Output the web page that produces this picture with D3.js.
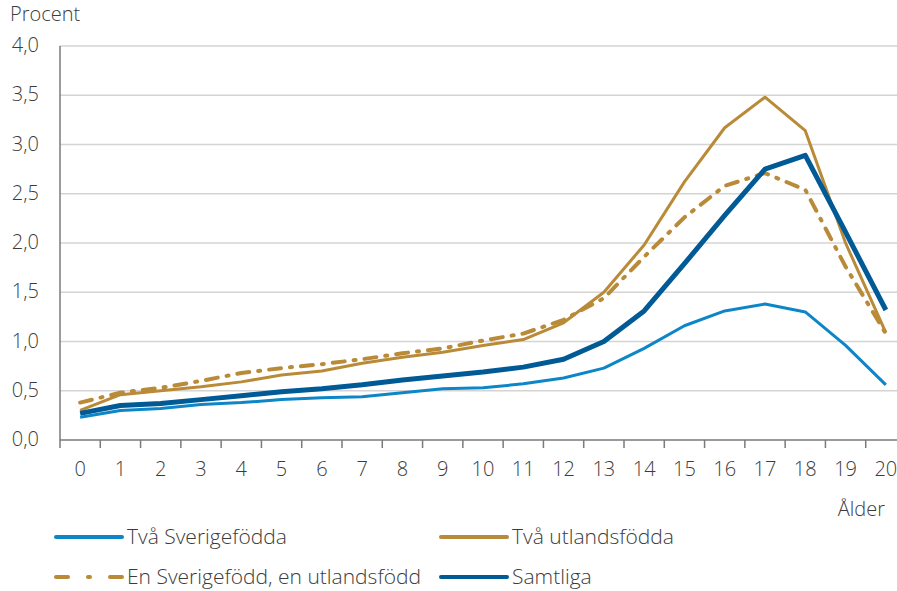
<!DOCTYPE html>
<html lang="sv">
<head>
<meta charset="utf-8">
<style>
  body { margin: 0; background: #fff; }
  text { font-family: "Open Sans", sans-serif; font-weight: 300; fill: #3c3c3c; font-size: 20px; }
  .legend text { font-size: 21px; }
</style>
</head>
<body>
<script src="https://cdn.jsdelivr.net/npm/d3@7"></script>
<script>

var ages = ["0","1","2","3","4","5","6","7","8","9","10","11","12","13","14","15","16","17","18","19","20"];
var yTicks = [0, 0.5, 1, 1.5, 2, 2.5, 3, 3.5, 4];

var tvaSverige = [0.23,0.30,0.32,0.36,0.38,0.41,0.43,0.44,0.48,0.52,0.53,0.57,0.63,0.73,0.93,1.16,1.31,1.38,1.30,0.96,0.56];
var tvaUtland  = [0.30,0.46,0.50,0.54,0.59,0.66,0.70,0.78,0.84,0.89,0.96,1.02,1.19,1.50,1.98,2.62,3.17,3.48,3.14,2.00,1.09];
var enVardera  = [0.38,0.48,0.53,0.60,0.68,0.73,0.77,0.82,0.88,0.93,1.01,1.08,1.22,1.44,1.86,2.26,2.58,2.71,2.54,1.76,1.08];
var samtliga   = [0.27,0.35,0.37,0.41,0.45,0.49,0.52,0.56,0.61,0.65,0.69,0.74,0.82,1.00,1.31,1.79,2.28,2.75,2.89,2.11,1.32];

var series = [
  {name: "Två Sverigefödda", values: tvaSverige, color: "#0d86c8", width: 3, dash: null},
  {name: "Två utlandsfödda", values: tvaUtland, color: "#b98a37", width: 3, dash: null},
  {name: "En Sverigefödd, en utlandsfödd", values: enVardera, color: "#b98a37", width: 4, dash: "12,9,2,9"},
  {name: "Samtliga", values: samtliga, color: "#005a96", width: 5, dash: null}
];

var width = 897, height = 591;
var plot = {left: 60, right: 906, top: 46, bottom: 440};

var svg = d3.select("body").append("svg")
  .attr("width", width)
  .attr("height", height);

var x = d3.scaleBand().domain(ages).range([plot.left, plot.right]);
var y = d3.scaleLinear().domain([0, 4]).range([plot.bottom, plot.top]);

// grid
svg.append("g").selectAll("line")
  .data(yTicks.filter(function(d) { return d > 0; }))
  .enter().append("line")
  .attr("x1", plot.left).attr("x2", width)
  .attr("y1", function(d) { return y(d); })
  .attr("y2", function(d) { return y(d); })
  .attr("stroke", "#d4d4d4")
  .attr("stroke-width", 1.5);

// y labels
var fmt = function(d) { return d3.format(".1f")(d).replace(".", ","); };
svg.append("g").selectAll("text")
  .data(yTicks)
  .enter().append("text")
  .attr("x", 39)
  .attr("y", function(d) { return y(d); })
  .attr("dy", "0.3em")
  .attr("text-anchor", "end")
  .text(fmt);

svg.append("text")
  .attr("x", 10).attr("y", 21)
  .text("Procent");

// axes lines
svg.append("line")
  .attr("x1", plot.left).attr("x2", plot.left)
  .attr("y1", plot.top).attr("y2", plot.bottom)
  .attr("stroke", "#7a7a7a").attr("stroke-width", 1.5);

svg.append("line")
  .attr("x1", plot.left).attr("x2", width)
  .attr("y1", plot.bottom).attr("y2", plot.bottom)
  .attr("stroke", "#7a7a7a").attr("stroke-width", 1.5);

// x ticks between categories
svg.append("g").selectAll("line")
  .data(ages.concat(["end"]))
  .enter().append("line")
  .attr("x1", function(d, i) { return plot.left + i * x.step(); })
  .attr("x2", function(d, i) { return plot.left + i * x.step(); })
  .attr("y1", plot.bottom).attr("y2", plot.bottom + 8)
  .attr("stroke", "#7a7a7a").attr("stroke-width", 1.5);

svg.append("g").selectAll("text")
  .data(ages)
  .enter().append("text")
  .attr("x", function(d) { return x(d) + x.bandwidth() / 2; })
  .attr("y", 469)
  .attr("dy", "0.35em")
  .attr("text-anchor", "middle")
  .text(function(d) { return d; });

svg.append("text")
  .attr("x", 885).attr("y", 509)
  .attr("dy", "0.35em")
  .attr("text-anchor", "end")
  .text("Ålder");

// lines
var line = d3.line()
  .x(function(d, i) { return x(ages[i]) + x.bandwidth() / 2; })
  .y(function(d) { return y(d); });

var drawOrder = [1, 2, 3, 0];
drawOrder.forEach(function(k) {
  var s = series[k];
  svg.append("path")
    .datum(s.values)
    .attr("fill", "none")
    .attr("stroke", s.color)
    .attr("stroke-width", s.width)
    .attr("stroke-dasharray", s.dash)
    .attr("stroke-linecap", s.dash ? "round" : "butt")
    .attr("stroke-linejoin", "round")
    .attr("d", line);
});

// legend
var legend = svg.selectAll(".legend")
  .data(series)
  .enter().append("g")
  .attr("class", "legend")
  .attr("transform", function(d, i) {
    return "translate(" + (i % 2 === 0 ? 56 : 441) + "," + (i < 2 ? 537 : 577) + ")";
  });

legend.append("line")
  .attr("x1", 0).attr("x2", 66)
  .attr("y1", 0).attr("y2", 0)
  .attr("stroke", function(d) { return d.color; })
  .attr("stroke-width", 4)
  .attr("stroke-dasharray", function(d) { return d.dash ? "12,20,2,20" : null; })
  .attr("stroke-linecap", "round");

legend.append("text")
  .attr("x", 71)
  .attr("y", 0)
  .attr("dy", "0.35em")
  .text(function(d) { return d.name; });

</script>
</body>
</html>
